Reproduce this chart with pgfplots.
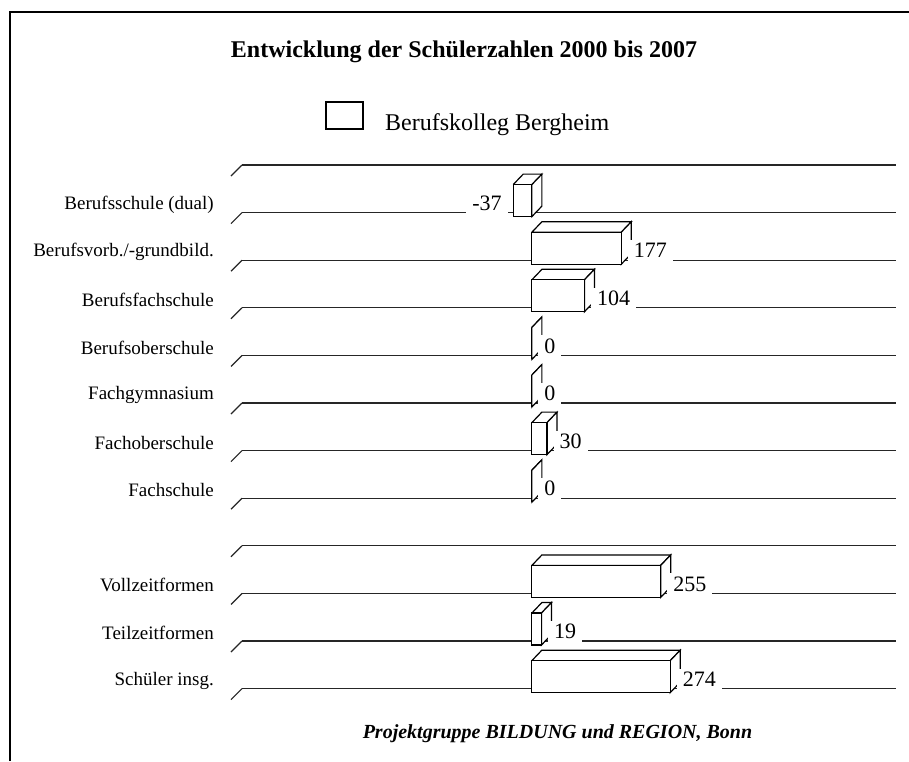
\documentclass[border=0pt]{standalone}
\usepackage{fontspec}
\setmainfont{Liberation Serif}
\usepackage{pgfplots}
\pgfplotsset{compat=1.18}

% 3D faces (top and right side) of one bar: row, value
\newcommand\cube[2]{%
  \pgfmathsetmacro\ca{min(0,#2)}\pgfmathsetmacro\cb{max(0,#2)}%
  \pgfmathsetmacro\caa{\ca+19.8}\pgfmathsetmacro\cbb{\cb+19.8}%
  \pgfmathsetmacro\yt{#1-0.588}\pgfmathsetmacro\ytt{#1-0.808}%
  \pgfmathsetmacro\yb{#1+0.084}\pgfmathsetmacro\ybb{#1-0.136}%
  \addplot[draw=black, fill=white, line width=1.2pt, mark=none, forget plot]
    coordinates {(\ca,\yt) (\cb,\yt) (\cbb,\ytt) (\caa,\ytt) (\ca,\yt)};
  \addplot[draw=black, fill=white, line width=1.2pt, mark=none, forget plot]
    coordinates {(\cb,\yt) (\cbb,\ytt) (\cbb,\ybb) (\cb,\yb) (\cb,\yt)};
}

\begin{document}
\begin{tikzpicture}
\path[use as bounding box] (0pt,0pt) rectangle (909pt,761pt);
\draw[line width=2.5pt] (10pt,0pt) -- (10pt,749pt) -- (909pt,749pt);

\node[font=\bfseries\fontsize{24}{28}\selectfont, anchor=base] at (464pt,703pt)
  {Entwicklung der Schülerzahlen 2000 bis 2007};
\node[font=\bfseries\itshape\fontsize{20}{24}\selectfont, anchor=base] at (557.5pt,22.5pt)
  {Projektgruppe BILDUNG und REGION, Bonn};

\begin{axis}[
  at={(242pt,596pt)}, anchor=north west,
  scale only axis, width=654pt, height=523.6pt,
  xmin=-574, xmax=721, ymin=0, ymax=11, y dir=reverse,
  enlargelimits=false, clip=false,
  axis line style={draw=none},
  xtick=\empty,
  ytick={0,...,11},
  yticklabels={{},Berufsschule (dual),Berufsvorb./-grundbild.,Berufsfachschule,Berufsoberschule,Fachgymnasium,Fachoberschule,Fachschule,{},Vollzeitformen,Teilzeitformen,Schüler insg.},
  yticklabel style={font=\fontsize{19}{22}\selectfont, inner sep=0pt, anchor=east, xshift=-28pt, yshift=8pt},
  major tick length=0pt, ytick style={draw=none},
  ymajorgrids, major grid style={black!85, line width=1.3pt},
  legend style={at={(axis description cs:0.1269,1.0926)}, anchor=west, draw=none, fill=none,
    inner sep=0pt, column sep=21pt, nodes={inner sep=0pt},
    font=\fontsize{24}{28}\selectfont},
  legend image code/.code={\draw[line width=2pt, fill=white] (0pt,-6pt) rectangle (37pt,21pt);},
]
\pgfplotsinvokeforeach{0,...,11}{\draw[line width=1.2pt, black!85] (axis cs:-574,#1) -- ++(-11pt,-11pt);}

\cube{1}{-37}
\cube{2}{177}
\cube{3}{104}
\cube{4}{0}
\cube{5}{0}
\cube{6}{30}
\cube{7}{0}
\cube{9}{255}
\cube{10}{19}
\cube{11}{274}

\addplot[xbar, bar width=0.672, bar shift=0pt, fill=white, draw=black, line width=1.2pt,
  point meta=explicit symbolic, nodes near coords={\pgfplotspointmeta},
  every node near coord/.append style={font=\fontsize{22}{26}\selectfont, fill=white,
    inner xsep=6pt, inner ysep=0pt, text height=17.7pt, text depth=4.5pt,
    anchor=west, xshift=6pt, yshift=-3pt}]
  coordinates {(177,1.748)[177] (104,2.748)[104] (0,3.748)[0] (0,4.748)[0] (30,5.748)[30]
               (0,6.748)[0] (255,8.748)[255] (19,9.748)[19] (274,10.748)[274]};
\addlegendentry{Berufskolleg Bergheim}

\addplot[xbar, bar width=0.672, bar shift=0pt, fill=white, draw=black, line width=1.2pt, forget plot,
  point meta=explicit symbolic, nodes near coords={\pgfplotspointmeta},
  every node near coord/.append style={font=\fontsize{22}{26}\selectfont, fill=white,
    inner xsep=6pt, inner ysep=0pt, text height=17.7pt, text depth=4.5pt,
    anchor=east, xshift=-5pt, yshift=-3pt}]
  coordinates {(-37,0.748)[-37]};
\end{axis}
\end{tikzpicture}
\end{document}
